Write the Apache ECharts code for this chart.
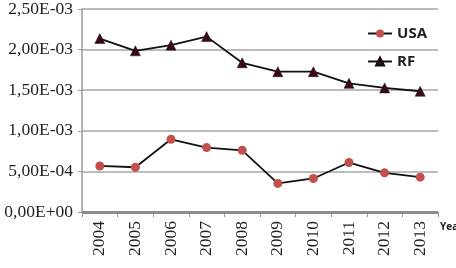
<!DOCTYPE html>
<html><head><meta charset="utf-8">
<script src="https://cdn.jsdelivr.net/npm/echarts@6/dist/echarts.min.js"></script>
<style>html,body{margin:0;padding:0;background:#fff}#c{width:456px;height:268px}</style>
</head><body><div id="c"></div>
<script>
const years = ['2004','2005','2006','2007','2008','2009','2010','2011','2012','2013'];
const usa = [0.567e-3, 0.551e-3, 0.895e-3, 0.793e-3, 0.760e-3, 0.352e-3, 0.413e-3, 0.609e-3, 0.482e-3, 0.429e-3];
const rf = [2.136e-3, 1.985e-3, 2.055e-3, 2.160e-3, 1.838e-3, 1.728e-3, 1.728e-3, 1.585e-3, 1.528e-3, 1.487e-3];
const yTickLabels = ['0,00E+00','5,00E-04','1,00E-03','1,50E-03','2,00E-03','2,50E-03'];
const xAxisName = 'Year';
const yStep = 0.5e-3;

const chart = echarts.init(document.getElementById('c'));
chart.setOption({
  animation: false,
  grid: {left: 82, right: 18, top: 8, bottom: 56},
  legend: {
    right: 24, top: 21, orient: 'vertical', itemGap: 13, itemWidth: 24, itemHeight: 10,
    textStyle: {fontFamily: 'Open Sans', fontWeight: 'bold', fontSize: 15, color: '#222'},
    data: ['USA','RF']
  },
  graphic: [{
    type: 'text', left: 440, top: 222,
    style: {text: xAxisName, fontFamily: 'Open Sans', fontWeight: 'bold', fontSize: 10, fill: '#222'}
  }],
  xAxis: {
    type: 'category', data: years, boundaryGap: true,
    axisLine: {lineStyle: {color: '#9a9a9a', width: 1.5}},
    axisTick: {show: true, length: 5, lineStyle: {color: '#9a9a9a'}},
    axisLabel: {rotate: 90, fontFamily: 'Liberation Serif', fontSize: 17.5, color: '#222', margin: 9}
  },
  yAxis: {
    type: 'value', min: 0, max: 2.5e-3, interval: yStep,
    axisLine: {show: true, lineStyle: {color: '#9a9a9a', width: 1.5}},
    axisTick: {show: true, length: 4, lineStyle: {color: '#9a9a9a'}},
    splitLine: {lineStyle: {color: '#a6a6a6', width: 1.5}},
    axisLabel: {
      fontFamily: 'Liberation Serif', fontSize: 17.5, color: '#222', margin: 9,
      formatter: v => yTickLabels[Math.round(v / yStep)]
    }
  },
  series: [
    {
      name: 'USA', type: 'line', data: usa, symbol: 'circle', symbolSize: 9,
      lineStyle: {color: '#111', width: 1.8},
      itemStyle: {color: '#c0504d'},
      markLine: {silent: true, symbol: 'none', label: {show: false},
        lineStyle: {color: '#8c8c8c', width: 3, type: 'solid'}, data: [{yAxis: 1.0e-3}]}
    },
    {
      name: 'RF', type: 'line', data: rf, symbol: 'triangle', symbolSize: 10,
      lineStyle: {color: '#111', width: 1.8},
      itemStyle: {color: '#3a0a14', borderColor: '#111', borderWidth: 0.5}
    }
  ]
});
</script></body></html>
